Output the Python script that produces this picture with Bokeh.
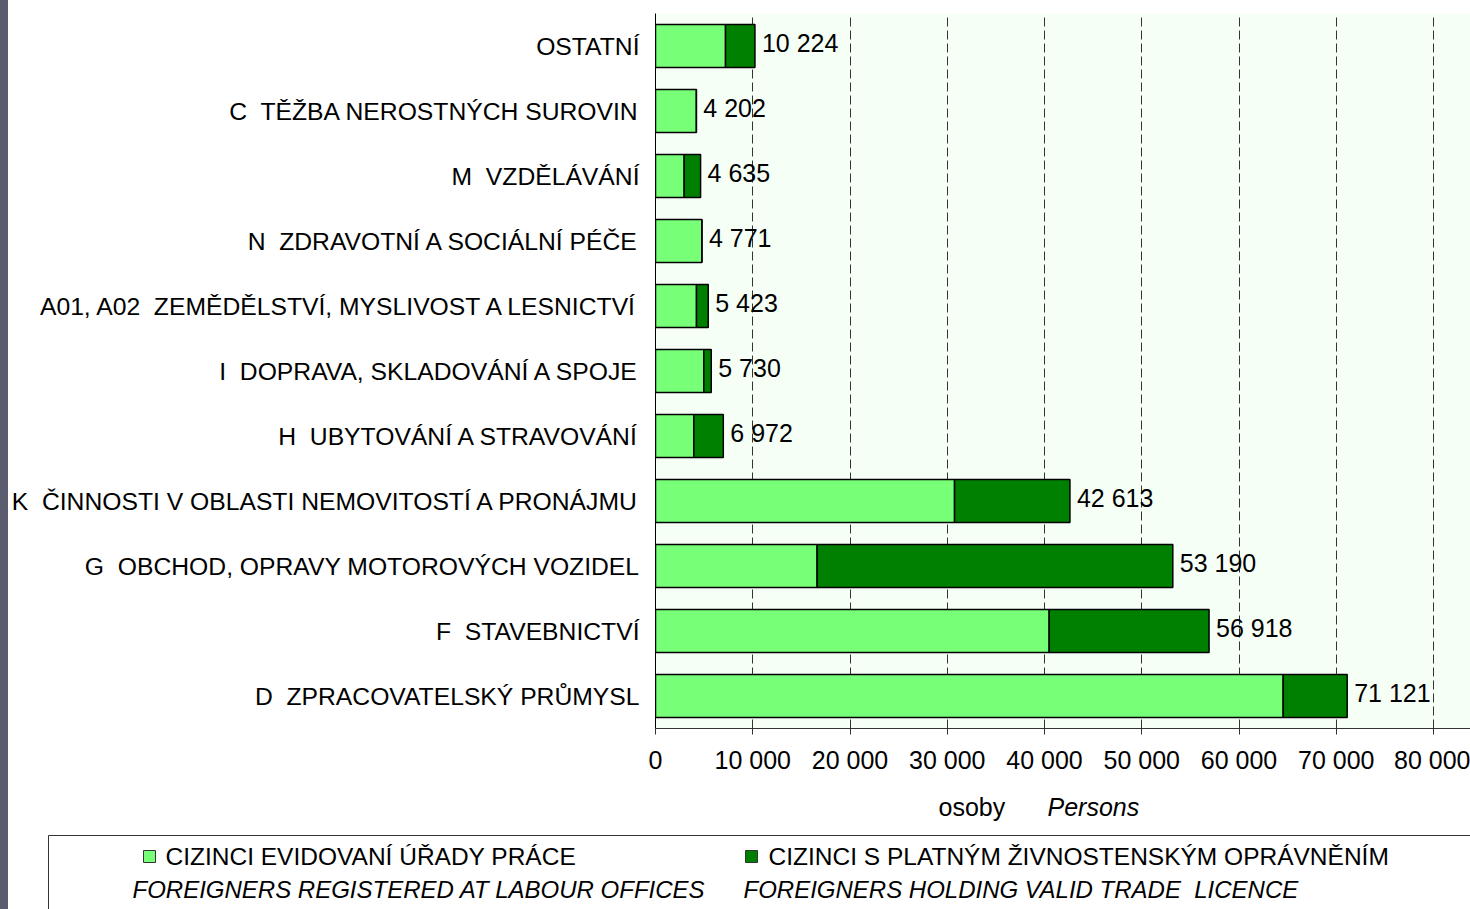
from bokeh.plotting import figure
from bokeh.layouts import column
from bokeh.models import FactorRange, Range1d, FixedTicker, ColumnDataSource
from bokeh.core.properties import value
from bokeh.embed import file_html
from bokeh.resources import INLINE

FONT = "Liberation Sans"

# ---- data (listed bottom -> top) ----
categories = [
    "D\u00a0 ZPRACOVATELSKÝ PRŮMYSL",
    "F\u00a0 STAVEBNICTVÍ",
    "G\u00a0 OBCHOD, OPRAVY MOTOROVÝCH VOZIDEL",
    "K\u00a0 ČINNOSTI V OBLASTI NEMOVITOSTÍ A PRONÁJMU",
    "H\u00a0 UBYTOVÁNÍ A STRAVOVÁNÍ",
    "I\u00a0 DOPRAVA, SKLADOVÁNÍ A SPOJE",
    "A01, A02\u00a0 ZEMĚDĚLSTVÍ, MYSLIVOST A LESNICTVÍ",
    "N\u00a0 ZDRAVOTNÍ A SOCIÁLNÍ PÉČE",
    "M\u00a0 VZDĚLÁVÁNÍ",
    "C\u00a0 TĚŽBA NEROSTNÝCH SUROVIN",
    "OSTATNÍ",
]
registered = [64540, 40480, 16620, 30750, 3940, 4970, 4216, 4771, 2950, 4202, 7200]
trade = [6581, 16438, 36570, 11863, 3032, 760, 1207, 0, 1685, 0, 3024]
totals = [71121, 56918, 53190, 42613, 6972, 5730, 5423, 4771, 4635, 4202, 10224]

x_ticks = [0, 10000, 20000, 30000, 40000, 50000, 60000, 70000, 80000]
x_tick_labels = ["0", "10 000", "20 000", "30 000", "40 000", "50 000", "60 000", "70 000", "80 000"]

series_names = ["registered", "trade"]
series_colors = ["#77ff77", "#008000"]
legend_cz = ["CIZINCI EVIDOVANÍ ÚŘADY PRÁCE", "CIZINCI S PLATNÝM ŽIVNOSTENSKÝM OPRÁVNĚNÍM"]
legend_en = ["FOREIGNERS REGISTERED AT LABOUR OFFICES", "FOREIGNERS HOLDING VALID TRADE\u00a0 LICENCE"]
axis_title_cz = "osoby"
axis_title_en = "Persons"

total_labels = [f"{t:,}".replace(",", " ") for t in totals]

src = ColumnDataSource(dict(cat=categories, registered=registered, trade=trade,
                            total=totals, label=total_labels))

p = figure(width=1462, height=785, y_range=FactorRange(*categories, range_padding=0),
           x_range=Range1d(0, 83800), output_backend="svg", toolbar_location=None,
           min_border_left=647, min_border_right=0, min_border_top=13, min_border_bottom=57)
p.frame_align = False
p.background_fill_color = "#f6fff6"
p.border_fill_color = "white"
p.outline_line_color = None

p.hbar_stack(series_names, y="cat", height=0.66, source=src, color=series_colors,
             line_color="black", line_width=1.5)

p.text(x="total", y="cat", text="label", source=src, text_align="left",
       text_baseline="middle", x_offset=7, y_offset=-3, text_color="black",
       text_font=value(FONT), text_font_size="25px")

# axes
p.xaxis.ticker = FixedTicker(ticks=x_ticks)
p.xaxis.major_label_overrides = {t: l for t, l in zip(x_ticks, x_tick_labels)}
p.xaxis.major_label_text_font = FONT
p.xaxis.major_label_text_font_size = "25px"
p.xaxis.major_label_text_color = "black"
p.xaxis.major_label_standoff = 11
p.xaxis.major_tick_in = 0
p.xaxis.major_tick_out = 6
p.xaxis.minor_tick_line_color = None
p.xaxis.axis_line_color = "#333333"
p.xaxis.major_tick_line_color = "#333333"

p.yaxis.major_label_text_font = FONT
p.yaxis.major_label_text_font_size = "24.7px"
p.yaxis.major_label_text_color = "black"
p.yaxis.major_tick_line_color = None
p.yaxis.major_tick_out = 0
p.yaxis.major_tick_in = 0
p.yaxis.major_label_standoff = 16
p.yaxis.axis_line_color = "black"
p.yaxis.axis_line_width = 1

p.xgrid.ticker = FixedTicker(ticks=x_ticks[1:])
p.xgrid.grid_line_color = "#333333"
p.xgrid.grid_line_dash = "9 4"
p.xgrid.grid_line_width = 1
p.ygrid.grid_line_color = None

# ---- bottom panel: axis title + legend (pixel coordinates of this panel) ----
W2, H2 = 1462, 124
q = figure(width=W2, height=H2, x_range=Range1d(0, W2), y_range=Range1d(H2, 0),
           output_backend="svg", toolbar_location=None, x_axis_type=None, y_axis_type=None,
           min_border=0)
q.frame_align = False
q.outline_line_color = None
q.grid.grid_line_color = None
q.background_fill_color = "white"
q.border_fill_color = "white"

q.text(x=[930], y=[21], text=[axis_title_cz], text_align="left", text_baseline="middle",
       text_font=value(FONT), text_font_size="25px", text_color="black")
q.text(x=[1039], y=[21], text=[axis_title_en], text_align="left", text_baseline="middle",
       text_font=value(FONT), text_font_size="25px", text_font_style="italic", text_color="black")

q.quad(left=[40], right=[1600], top=[50], bottom=[200], fill_color=None,
       line_color="#333333", line_width=1)
sq_x = [135, 737]
txt_x = [157, 760]
it_x = [124, 735]
q.quad(left=sq_x, right=[v + 12 for v in sq_x], top=[65, 65], bottom=[77, 77],
       fill_color=series_colors, line_color="#333333", line_width=1)
q.text(x=txt_x, y=[71, 71], text=legend_cz, text_align="left", text_baseline="middle",
       text_font=value(FONT), text_font_size="24.5px", text_color="black")
q.text(x=it_x, y=[104, 104], text=legend_en, text_align="left", text_baseline="middle",
       text_font=value(FONT), text_font_size="24px", text_font_style="italic", text_color="black")

layout = column(p, q, spacing=0)

html = file_html(layout, INLINE)
html = html.replace("<head>", "<head><style>html{background:linear-gradient(90deg,#5a5d6f 8px,#ffffff 8px) !important;} body{padding-left:8px !important;}</style>", 1)
open("out.html", "w").write(html)
